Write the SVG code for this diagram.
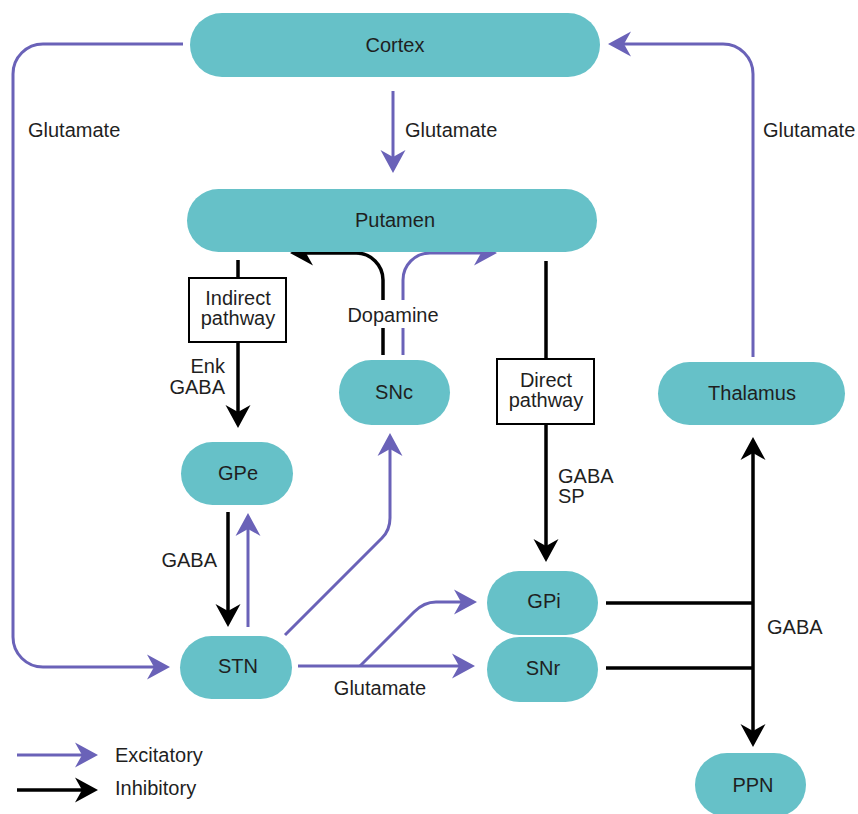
<svg xmlns="http://www.w3.org/2000/svg" width="858" height="814" viewBox="0 0 858 814">
  <style>
    .node { fill: #66c1c8; }
    .box { fill: #ffffff; stroke: #000000; stroke-width: 2; }
    .exc { fill: none; stroke: #6a62b8; stroke-width: 3; }
    .inh { fill: none; stroke: #000000; stroke-width: 3.5; }
    .exc-a { marker-end: url(#arrowExc); }
    .inh-a { marker-end: url(#arrowInh); }
    text { font-family: "Liberation Sans", Arial, sans-serif; font-size: 20px; fill: #1f1f1f; }
    .c { text-anchor: middle; }
    .r { text-anchor: end; }
  </style>
  <defs>
    <marker id="arrowExc" viewBox="-16 -13 26 26" refX="0" refY="0" markerWidth="26" markerHeight="26" markerUnits="userSpaceOnUse" orient="auto">
      <path d="M8,0 L-15,-12.5 L-8,0 L-15,12.5 Z" fill="#6a62b8"/>
    </marker>
    <marker id="arrowInh" viewBox="-16 -13 26 26" refX="0" refY="0" markerWidth="26" markerHeight="26" markerUnits="userSpaceOnUse" orient="auto">
      <path d="M8,0 L-15,-12.5 L-8,0 L-15,12.5 Z" fill="#000000"/>
    </marker>
  </defs>

  <!-- connectors -->
  <g id="connectors">
    <!-- cortex to STN (hyperdirect) -->
    <path class="exc exc-a" d="M183,44 H43 A30,30 0 0 0 13,74 V637 A30,30 0 0 0 43,667 H162"/>
    <!-- cortex to putamen -->
    <path class="exc exc-a" d="M393,91 V165"/>
    <!-- thalamus to cortex -->
    <path class="exc exc-a" d="M753,357 V74 A30,30 0 0 0 723,44 H616"/>
    <!-- dopamine projections from SNc -->
    <path class="inh" d="M383,355 V328"/>
    <path class="inh inh-a" d="M383,300 V280 A27,27 0 0 0 356,253 H298"/>
    <path class="exc" d="M403,355 V328"/>
    <path class="exc exc-a" d="M403,300 V280 A27,27 0 0 1 430,253 H489"/>
    <!-- indirect pathway -->
    <path class="inh" d="M238,260 V278"/>
    <path class="inh inh-a" d="M238,342 V420"/>
    <!-- direct pathway -->
    <path class="inh" d="M546,261 V359"/>
    <path class="inh inh-a" d="M546,424 V554"/>
    <!-- GPe / STN loop -->
    <path class="inh inh-a" d="M228,512 V619"/>
    <path class="exc exc-a" d="M248,627 V521"/>
    <!-- STN to SNc -->
    <path class="exc exc-a" d="M285,635 L382,538 Q390,530 390,518 V441"/>
    <!-- STN to SNr and GPi -->
    <path class="exc exc-a" d="M298,666 H467"/>
    <path class="exc exc-a" d="M360,666 L414,612 Q424,602 436,602 H469"/>
    <!-- GPi / SNr output -->
    <path class="inh" d="M606,603 H753"/>
    <path class="inh" d="M606,668 H753"/>
    <path class="inh inh-a" d="M753,603 V445"/>
    <path class="inh inh-a" d="M753,603 V739"/>
    <!-- legend arrows -->
    <path class="exc exc-a" d="M17,755 H90"/>
    <path class="inh inh-a" d="M17,790 H90"/>
  </g>

  <!-- nodes -->
  <g id="cortex">
    <rect class="node" x="190" y="13" width="410" height="64" rx="32"/>
    <text class="c" x="395" y="52">Cortex</text>
  </g>
  <g id="putamen">
    <rect class="node" x="187" y="189" width="410" height="63" rx="31.5"/>
    <text class="c" x="395" y="227">Putamen</text>
  </g>
  <g id="indirect-pathway">
    <rect class="box" x="189" y="278" width="97" height="64"/>
    <text class="c" x="238" y="305">Indirect</text>
    <text class="c" x="238" y="325">pathway</text>
  </g>
  <g id="snc">
    <rect class="node" x="339" y="360" width="111" height="65" rx="32.5"/>
    <text class="c" x="394" y="399">SNc</text>
  </g>
  <g id="direct-pathway">
    <rect class="box" x="497" y="359" width="97" height="65"/>
    <text class="c" x="546" y="387">Direct</text>
    <text class="c" x="546" y="407">pathway</text>
  </g>
  <g id="thalamus">
    <rect class="node" x="658" y="362" width="187" height="63" rx="31.5"/>
    <text class="c" x="752" y="400">Thalamus</text>
  </g>
  <g id="gpe">
    <rect class="node" x="181" y="442" width="112" height="63" rx="31.5"/>
    <text class="c" x="238" y="480">GPe</text>
  </g>
  <g id="stn">
    <rect class="node" x="180" y="636" width="112" height="63" rx="31.5"/>
    <text class="c" x="238" y="673">STN</text>
  </g>
  <g id="gpi">
    <rect class="node" x="487" y="571" width="111" height="64" rx="32"/>
    <text class="c" x="544" y="608">GPi</text>
  </g>
  <g id="snr">
    <rect class="node" x="487" y="637" width="111" height="65" rx="32.5"/>
    <text class="c" x="543" y="675">SNr</text>
  </g>
  <g id="ppn">
    <rect class="node" x="695" y="753" width="111" height="64" rx="32"/>
    <text class="c" x="753" y="792">PPN</text>
  </g>

  <!-- connector labels -->
  <g id="labels">
    <text x="28" y="137">Glutamate</text>
    <text x="405" y="137">Glutamate</text>
    <text x="763" y="137">Glutamate</text>
    <text class="c" x="393" y="322">Dopamine</text>
    <text class="r" x="225" y="373">Enk</text>
    <text class="r" x="225" y="394">GABA</text>
    <text x="558" y="483">GABA</text>
    <text x="558" y="503">SP</text>
    <text class="r" x="217" y="567">GABA</text>
    <text x="767" y="634">GABA</text>
    <text class="c" x="380" y="695">Glutamate</text>
  </g>

  <!-- legend -->
  <g id="legend">
    <text x="115" y="762">Excitatory</text>
    <text x="115" y="795">Inhibitory</text>
  </g>
</svg>
